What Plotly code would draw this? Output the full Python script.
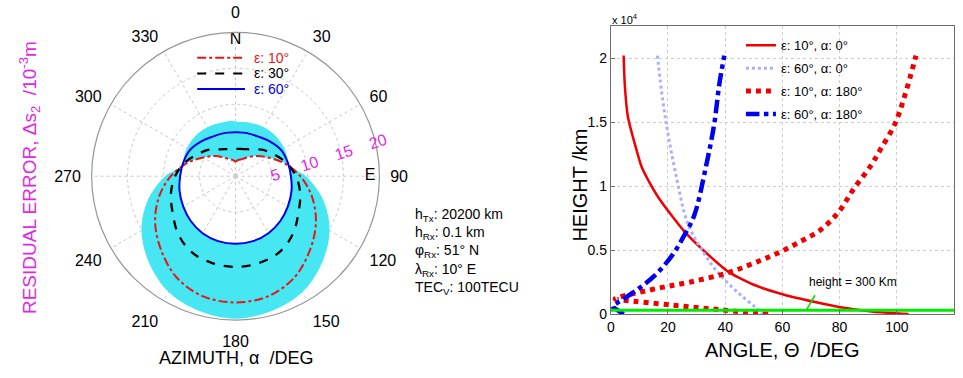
import plotly.graph_objects as go

# ---------------- polar chart data (azimuth in deg, residual error in 1e-3 m) -------------
az = [0, 10, 20, 30, 45, 60, 75, 90, 105, 120, 135, 150, 165, 180,
      195, 210, 225, 240, 255, 270, 285, 300, 315, 330, 340, 350, 360]
err_e10 = [2.05, 2.3, 2.5, 2.95, 3.95, 5.2, 7.0, 9.0, 11.0, 12.9, 14.6, 16.3, 17.3, 17.55,
           17.3, 16.3, 14.6, 12.9, 11.0, 9.0, 7.0, 5.2, 3.95, 2.95, 2.5, 2.3, 2.05]
err_e30 = [3.8, 3.85, 4.0, 4.3, 5.2, 6.1, 7.3, 8.4, 9.3, 10.1, 11.3, 12.2, 12.5, 12.6,
           12.5, 12.2, 11.3, 10.1, 9.3, 8.4, 7.3, 6.1, 5.2, 4.3, 4.0, 3.85, 3.8]
err_e60 = [6.12, 6.15, 6.22, 6.35, 6.8, 7.3, 7.5, 7.7, 8.05, 8.4, 8.8, 9.15, 9.35, 9.4,
           9.35, 9.15, 8.8, 8.4, 8.05, 7.7, 7.5, 7.3, 6.8, 6.35, 6.22, 6.15, 6.12]

band_az = [0, 15, 30, 45, 60, 70, 78, 85, 90, 105, 120, 135, 150, 165, 180,
           195, 210, 225, 240, 255, 270, 275, 282, 290, 300, 315, 330, 345, 360]
band_outer = [7.55, 7.7, 7.85, 7.9, 7.8, 7.65, 7.55, 8.6, 9.8, 12.6, 15.1, 17.0, 18.6, 19.4, 19.8,
              19.4, 18.6, 17.0, 15.1, 12.6, 9.8, 8.6, 7.55, 7.65, 7.8, 7.9, 7.85, 7.7, 7.55]
band_inner = [2.05, 2.4, 2.95, 3.95, 5.2, 6.4, 7.45, 7.6, 7.7, 8.05, 8.4, 8.8, 9.15, 9.35, 9.4,
              9.35, 9.15, 8.8, 8.4, 8.05, 7.7, 7.6, 7.45, 6.4, 5.2, 3.95, 2.95, 2.4, 2.05]

ang_ticks = [0, 30, 60, 90, 120, 150, 180, 210, 240, 270, 300, 330]
rad_ticks = [5, 10, 15, 20]

# ---------------- right chart data (angle in deg, height in km) ----------------
ang_e10_a0 = [4.5, 4.9, 6.0, 8.4, 10.7, 12.2, 17.0, 25.8, 33.3, 41.4, 50.7, 61.2, 71.0, 80.3, 91.9, 104.1]
h_e10_a0 = [20200, 17900, 15400, 13300, 11560, 10850, 9000, 6450, 4800, 3270, 2240, 1480, 970, 540, 200, 20]

ang_e60_a0 = [16.3, 18.2, 20.0, 22.5, 26.9, 32.2, 37.9, 44.9, 50.5, 53.0]
h_e60_a0 = [20200, 16670, 14100, 11200, 7100, 4900, 3140, 1600, 550, 0]

ang_e10_a180 = [55.0, 39.1, 21.7, 4.3, 1.5, 15.9, 27.5, 41.4, 51.9, 59.4, 66.4, 73.4, 79.7, 84.9,
                90.8, 94.2, 99.4, 102.9, 106.7]
h_e10_a180 = [0, 330, 710, 1100, 1200, 2000, 2500, 3270, 4160, 4880, 5690, 6600, 8000, 9780,
              11560, 12840, 14900, 17170, 20200]

ang_e60_a180 = [4.5, 2.5, 0.6, 2.0, 8.9, 15.9, 21.7, 25.8, 29.2, 33.3, 36.2, 37.9, 39.7]
h_e60_a180 = [0, 300, 620, 840, 1860, 3140, 4670, 6200, 7730, 11560, 14900, 17900, 20200]

iono_angle = [0, 120]
iono_height = [300, 300]

x_ticks = [0, 20, 40, 60, 80, 100, 120]
y_ticks = [0, 5000, 10000, 15000, 20000]
y_ticktext = ["0", "0.5", "1", "1.5", "2"]

FONT = "Liberation Sans, Arial, sans-serif"
MAG = "rgb(225,40,225)"
CYAN = "rgb(70,230,242)"

fig = go.Figure()

# cyan band (outer envelope with a hole)
fig.add_trace(go.Scatterpolar(
    r=band_outer + band_inner[::-1],
    theta=band_az + band_az[::-1],
    mode="lines", fill="toself", fillcolor=CYAN,
    line=dict(width=0, color=CYAN, shape="spline"),
    showlegend=False, hoverinfo="skip", subplot="polar"))

fig.add_trace(go.Scatterpolar(r=err_e10, theta=az, mode="lines",
    line=dict(color="rgb(235,20,20)", width=2, dash="dashdot", shape="spline"),
    showlegend=False, subplot="polar"))
fig.add_trace(go.Scatterpolar(r=err_e30, theta=az, mode="lines",
    line=dict(color="black", width=2.3, dash="dash", shape="spline"),
    showlegend=False, subplot="polar"))
fig.add_trace(go.Scatterpolar(r=err_e60, theta=az, mode="lines",
    line=dict(color="rgb(0,0,230)", width=2, shape="spline"),
    showlegend=False, subplot="polar"))

# compass letters
fig.add_trace(go.Scatterpolar(r=[19.0, 18.7], theta=[0, 90], mode="text", text=["N", "E"],
    textfont=dict(family=FONT, size=16, color="black"), showlegend=False,
    hoverinfo="skip", subplot="polar"))

# right chart lines
fig.add_trace(go.Scatter(x=ang_e10_a0, y=h_e10_a0, mode="lines", name="ε: 10°, α: 0°",
    line=dict(color="rgb(240,0,0)", width=2.5, shape="spline", smoothing=0.6), legendgroup="a",
    xaxis="x", yaxis="y"))
fig.add_trace(go.Scatter(x=ang_e60_a0, y=h_e60_a0, mode="lines", name="ε: 60°, α: 0°",
    line=dict(color="rgb(170,175,252)", width=3, dash="dot", shape="spline"), legendgroup="b",
    xaxis="x", yaxis="y"))
fig.add_trace(go.Scatter(x=ang_e10_a180, y=h_e10_a180, mode="lines", name="ε: 10°, α: 180°",
    line=dict(color="rgb(240,0,0)", width=5, dash="dot", shape="spline"), legendgroup="c",
    xaxis="x", yaxis="y"))
fig.add_trace(go.Scatter(x=ang_e60_a180, y=h_e60_a180, mode="lines", name="ε: 60°, α: 180°",
    line=dict(color="rgb(0,0,240)", width=4.5, dash="dashdot", shape="spline"), legendgroup="d",
    xaxis="x", yaxis="y"))
fig.add_trace(go.Scatter(x=iono_angle, y=iono_height, mode="lines", showlegend=False,
    line=dict(color="rgb(0,235,0)", width=3), xaxis="x", yaxis="y"))

W, H = 963, 378
cx, cy, R = 232.5, 180.0, 147.0

fig.update_layout(
    width=W, height=H, autosize=False,
    margin=dict(l=0, r=0, t=0, b=0),
    paper_bgcolor="white", plot_bgcolor="white",
    font=dict(family=FONT, size=14, color="black"),
    polar=dict(
        domain=dict(x=[(cx - R) / W, (cx + R) / W], y=[(H - cy - R) / H, (H - cy + R) / H]),
        bgcolor="white",
        angularaxis=dict(rotation=90, direction="clockwise", tickvals=ang_ticks,
                         ticktext=[str(v) for v in ang_ticks], ticks="outside", ticklen=7,
                         tickcolor="rgba(0,0,0,0)",
                         tickfont=dict(family=FONT, size=16, color="black"),
                         showline=True, linecolor="rgb(150,150,150)", linewidth=1.2,
                         showgrid=True, gridcolor="rgb(200,200,200)", griddash="dot",
                         gridwidth=1),
        radialaxis=dict(range=[0, 20], tickvals=rad_ticks,
                        ticktext=["\u00a0" + str(v) for v in rad_ticks],
                        angle=18, side="clockwise", showline=False, ticks="",
                        tickangle=0,
                        tickfont=dict(family=FONT, size=16, color=MAG),
                        showgrid=True, gridcolor="rgb(200,200,200)", griddash="dot", gridwidth=1),
    ),
    xaxis=dict(domain=[609.3 / W, 954.0 / W], range=[0, 120], tickvals=x_ticks,
               showgrid=True, gridcolor="rgb(205,205,205)", griddash="dot", zeroline=False,
               showline=True, mirror=True, linecolor="rgb(110,110,110)", linewidth=1,
               ticks="inside", ticklen=4, tickcolor="rgb(110,110,110)",
               tickfont=dict(family=FONT, size=14), anchor="y"),
    yaxis=dict(domain=[(H - 321.0) / H, (H - 26.7) / H], range=[0, 22500], tickvals=y_ticks,
               ticktext=y_ticktext,
               showgrid=True, gridcolor="rgb(205,205,205)", griddash="dot", zeroline=False,
               showline=True, mirror=True, linecolor="rgb(110,110,110)", linewidth=1,
               ticks="inside", ticklen=4, tickcolor="rgb(110,110,110)",
               tickfont=dict(family=FONT, size=14), anchor="x"),
    legend=dict(x=740 / W, y=(H - 31) / H, xanchor="left", yanchor="top",
                bgcolor="rgba(0,0,0,0)", font=dict(family=FONT, size=13),
                tracegroupgap=3, itemwidth=30),
)

# polar legend (drawn as line samples + coloured labels)
leg_items = [("ε: 10°", "rgb(235,20,20)", "dashdot", 59),
             ("ε: 30°", "black", "dash", 75),
             ("ε: 60°", "rgb(0,0,230)", "solid", 91)]
for txt, col, dsh, yy in leg_items:
    fig.add_shape(type="line", xref="paper", yref="paper",
                  x0=194 / W, x1=242 / W, y0=(H - yy) / H, y1=(H - yy) / H,
                  line=dict(color=col, width=2, dash=dsh))
    fig.add_annotation(text=txt, xref="paper", yref="paper", x=249 / W, y=(H - yy) / H,
                       xanchor="left", yanchor="middle", showarrow=False,
                       font=dict(family=FONT, size=14, color=col))

ann = [
    dict(text="AZIMUTH, α  /DEG", x=233 / W, y=(H - 366) / H, font=dict(size=18)),
    dict(text="RESIDUAL ERROR, Δs<sub>2</sub>  /10<sup>-3</sup>m", x=25 / W, y=(H - 181) / H,
         textangle=-90, font=dict(size=19, color=MAG)),
    dict(text="HEIGHT /km", x=578 / W, y=(H - 189) / H, textangle=-90, font=dict(size=20)),
    dict(text="ANGLE, Θ  /DEG", x=781 / W, y=(H - 358) / H, font=dict(size=20)),
    dict(text="x 10<sup>4</sup>", x=609 / W, y=(H - 19) / H, xanchor="left", font=dict(size=11)),
    dict(text="h<sub>Tx</sub>: 20200 km<br>h<sub>Rx</sub>: 0.1 km<br>φ<sub>Rx</sub>: 51° N<br>"
              "λ<sub>Rx</sub>: 10° E<br>TEC<sub>V</sub>: 100TECU",
         x=411 / W, y=(H - 257) / H, xanchor="left", align="left", font=dict(size=14)),
]
for a in ann:
    a.setdefault("xanchor", "center")
    a.setdefault("yanchor", "middle")
    f = a.pop("font")
    f.setdefault("family", FONT)
    f.setdefault("color", "black")
    fig.add_annotation(xref="paper", yref="paper", showarrow=False, font=f, **a)

fig.add_annotation(text="height = 300 Km", x=84.8, y=2530, xref="x", yref="y", showarrow=False,
                   font=dict(family=FONT, size=12, color="black"))
fig.add_shape(type="line", xref="x", yref="y", x0=68.5, y0=380, x1=71.4, y1=1480,
              line=dict(color="rgb(0,220,0)", width=1.5))

fig.write_html("out.html")
